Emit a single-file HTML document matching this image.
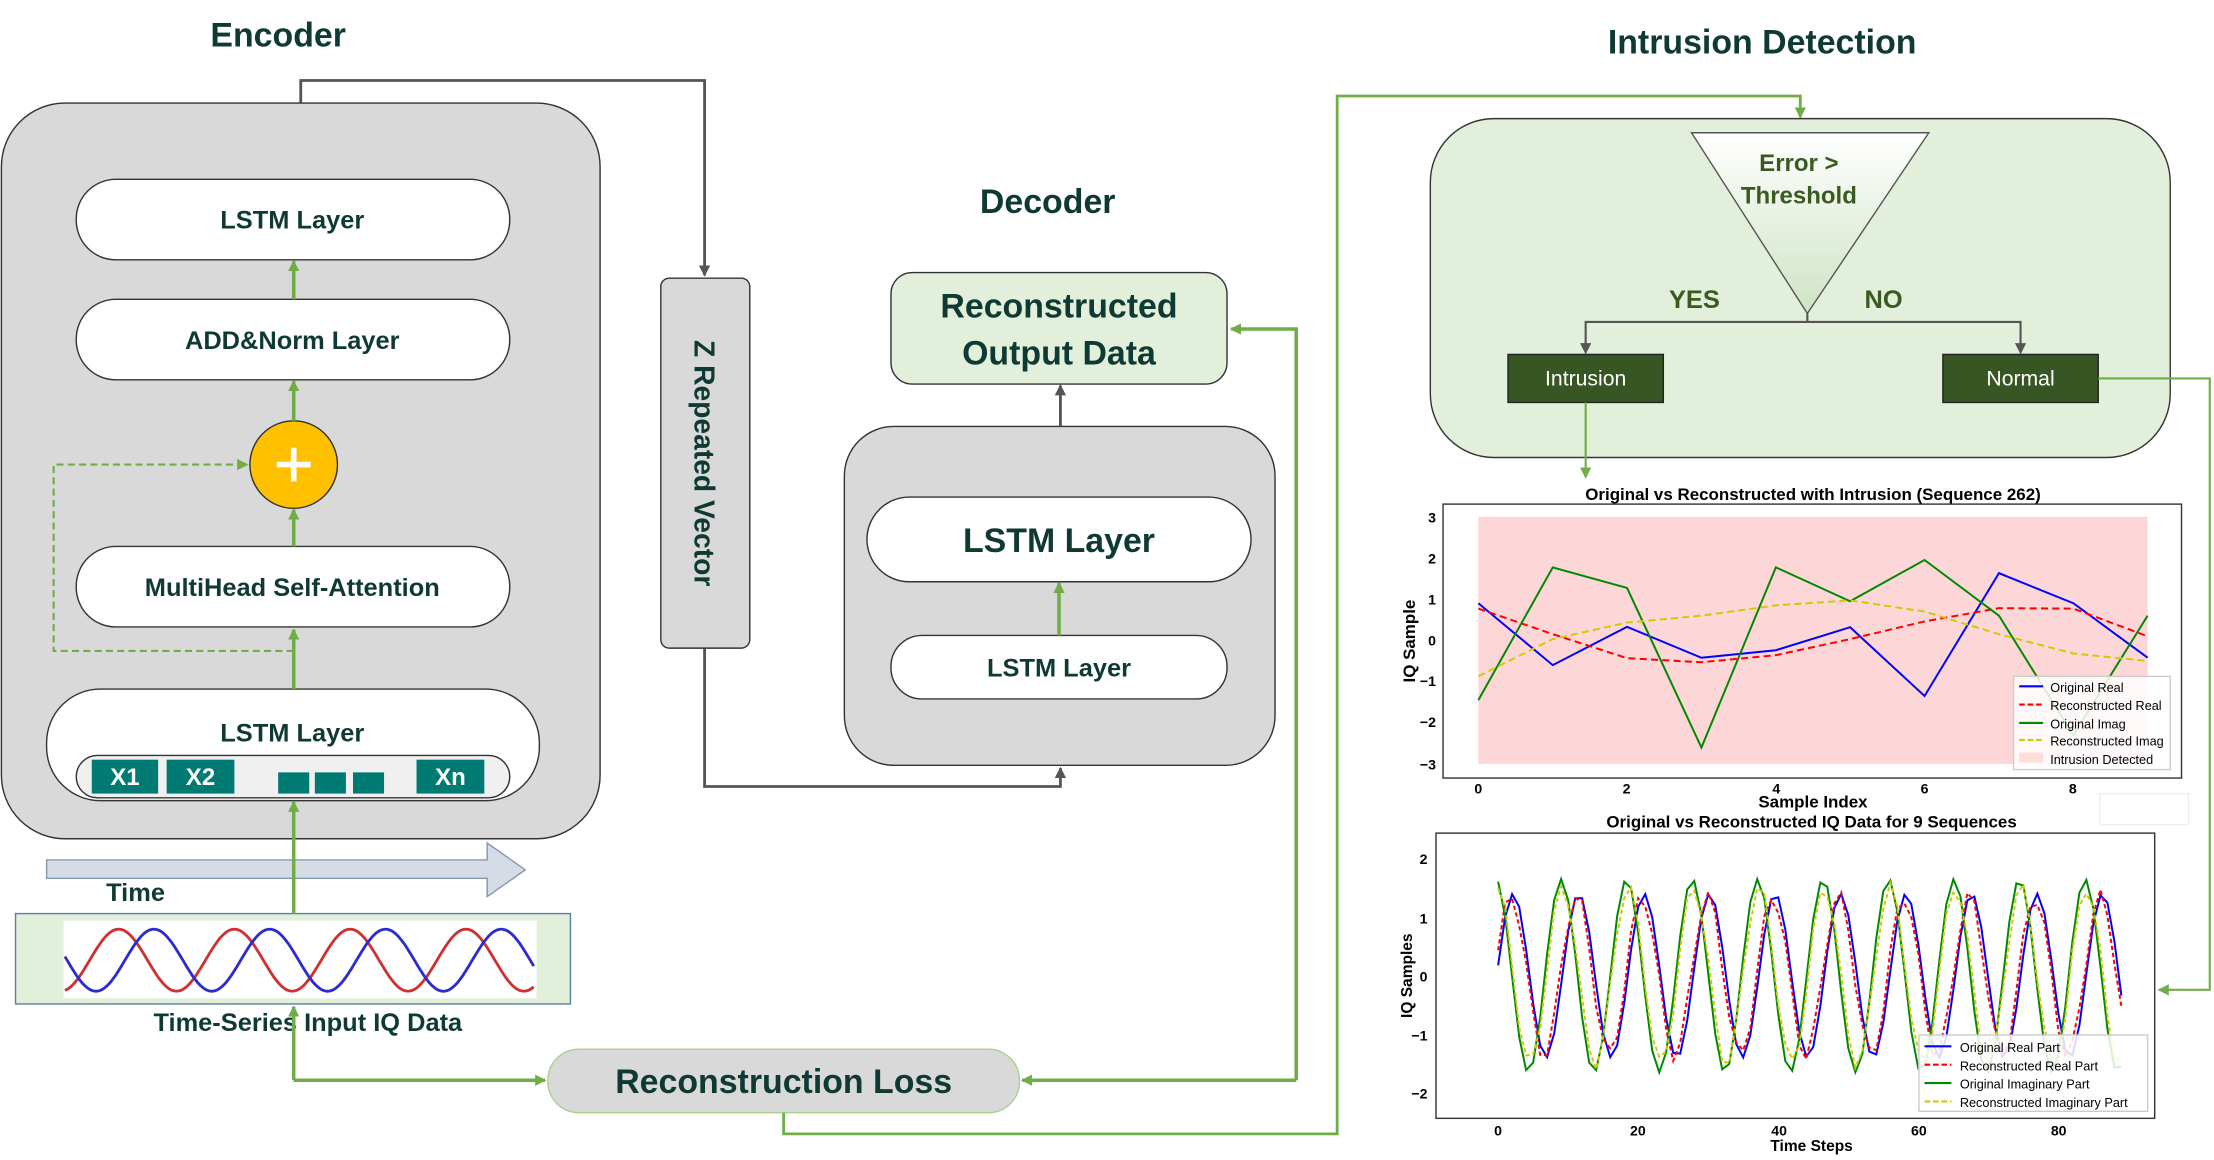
<!DOCTYPE html>
<html><head><meta charset="utf-8"><style>
html,body{margin:0;padding:0;background:#fff;}
svg{display:block;font-family:"Liberation Sans",sans-serif;}
.t{font-weight:bold;fill:#0f3a33;text-anchor:middle;}
</style></head><body>
<svg id="s" width="2214" height="1160" viewBox="0 0 1568 821.5" preserveAspectRatio="none" xmlns="http://www.w3.org/2000/svg">
<defs>
<marker id="ag" markerWidth="8" markerHeight="8" refX="7" refY="4" orient="auto" markerUnits="userSpaceOnUse"><path d="M0,0L8,4L0,8z" fill="#70ad47"/></marker>
<marker id="ak" markerWidth="8" markerHeight="8" refX="7" refY="4" orient="auto" markerUnits="userSpaceOnUse"><path d="M0,0L8,4L0,8z" fill="#555"/></marker>
<linearGradient id="tri" x1="0" y1="0" x2="0" y2="1"><stop offset="0" stop-color="#fff"/><stop offset="1" stop-color="#cfe3c4"/></linearGradient>
</defs>
<text class="t" x="197" y="33" font-size="24">Encoder</text>
<text class="t" x="742" y="151" font-size="24">Decoder</text>
<text class="t" x="1248" y="38" font-size="24">Intrusion Detection</text>

<path d="M213,73V57H499V195" fill="none" stroke="#555" stroke-width="2" marker-end="url(#ak)"/>
<path d="M499,459V557H751V544" fill="none" stroke="#555" stroke-width="2" marker-end="url(#ak)"/>

<rect x="1" y="73" width="424" height="521" rx="45" fill="#d9d9d9" stroke="#333"/>
<rect x="54" y="127" width="307" height="57" rx="28" fill="#fff" stroke="#333"/>
<text class="t" x="207" y="162" font-size="18">LSTM Layer</text>
<rect x="54" y="212" width="307" height="57" rx="28" fill="#fff" stroke="#333"/>
<text class="t" x="207" y="247" font-size="18">ADD&amp;Norm Layer</text>
<rect x="54" y="387" width="307" height="57" rx="28" fill="#fff" stroke="#333"/>
<text class="t" x="207" y="422" font-size="18">MultiHead Self-Attention</text>
<circle cx="208" cy="329" r="31" fill="#ffc000" stroke="#333"/>
<path d="M196,329H220M208,317V341" stroke="#fff" stroke-width="4"/>
<rect x="33" y="488" width="349" height="79" rx="38" fill="#fff" stroke="#333"/>
<text class="t" x="207" y="525" font-size="18">LSTM Layer</text>
<rect x="54" y="535" width="307" height="30" rx="15" fill="#f0f0f0" stroke="#333"/>
<rect x="65" y="538" width="47" height="24" fill="#007b74"/><text x="88.5" y="556" fill="#fff" font-size="17" font-weight="bold" text-anchor="middle">X1</text>
<rect x="118" y="538" width="48" height="24" fill="#007b74"/><text x="142" y="556" fill="#fff" font-size="17" font-weight="bold" text-anchor="middle">X2</text>
<rect x="197" y="547" width="22" height="15" fill="#007b74"/>
<rect x="223" y="547" width="22" height="15" fill="#007b74"/>
<rect x="250" y="547" width="22" height="15" fill="#007b74"/>
<rect x="295" y="538" width="48" height="24" fill="#007b74"/><text x="319" y="556" fill="#fff" font-size="17" font-weight="bold" text-anchor="middle">Xn</text>
<g stroke="#70ad47" stroke-width="2.5" fill="none">
<path d="M208,488V446" marker-end="url(#ag)"/>
<path d="M208,387V361" marker-end="url(#ag)"/>
<path d="M208,298V270" marker-end="url(#ag)"/>
<path d="M208,212V185" marker-end="url(#ag)"/>
</g>
<path d="M208,461H38V329H175" fill="none" stroke="#70ad47" stroke-width="1.5" stroke-dasharray="5,3" marker-end="url(#ag)"/>

<path d="M33,609H345V597L372,616L345,635V622H33Z" fill="#d6dce5" stroke="#8497b0"/>
<text class="t" x="96" y="638" font-size="18">Time</text>
<rect x="11" y="647" width="393" height="64" fill="#e2efda" stroke="#5b7fa6"/>
<rect x="45" y="652" width="335" height="55" fill="#fff"/>
<path id="red" fill="none" stroke="#d03030" stroke-width="2"/>
<path id="blue" fill="none" stroke="#2b2bd0" stroke-width="2"/>
<text class="t" x="218" y="730" font-size="18">Time-Series  Input IQ Data</text>
<path d="M208,647V568" stroke="#70ad47" stroke-width="2.5" fill="none" marker-end="url(#ag)"/>

<path d="M208,765V713" stroke="#70ad47" stroke-width="2.5" fill="none" marker-end="url(#ag)"/>
<path d="M208,765H386" stroke="#70ad47" stroke-width="2.5" fill="none" marker-end="url(#ag)"/>
<rect x="388" y="743" width="334" height="45" rx="22" fill="#d9d9d9" stroke="#a9d18e"/>
<text class="t" x="555" y="774" font-size="24">Reconstruction Loss</text>
<path d="M918,765H724" stroke="#70ad47" stroke-width="2.5" fill="none" marker-end="url(#ag)"/>
<path d="M918,765V233H872" stroke="#70ad47" stroke-width="2.5" fill="none" marker-end="url(#ag)"/>
<path d="M555,788V803H947V68H1275V83" stroke="#70ad47" stroke-width="2" fill="none" marker-end="url(#ag)"/>

<rect x="468" y="197" width="63" height="262" rx="6" fill="#d9d9d9" stroke="#333"/>
<text class="t" font-size="20" transform="translate(492,328) rotate(90)">Z Repeated Vector</text>

<rect x="598" y="302" width="305" height="240" rx="35" fill="#d9d9d9" stroke="#333"/>
<rect x="614" y="352" width="272" height="60" rx="30" fill="#fff" stroke="#333"/>
<text class="t" x="750" y="391" font-size="24">LSTM Layer</text>
<rect x="631" y="450" width="238" height="45" rx="22" fill="#fff" stroke="#333"/>
<text class="t" x="750" y="479" font-size="18">LSTM Layer</text>
<path d="M750,450V413" stroke="#70ad47" stroke-width="2.5" fill="none" marker-end="url(#ag)"/>
<path d="M751,302V273" stroke="#555" stroke-width="2" fill="none" marker-end="url(#ak)"/>
<rect x="631" y="193" width="238" height="79" rx="15" fill="#e2efda" stroke="#333"/>
<text class="t" x="750" y="225" font-size="24">Reconstructed</text>
<text class="t" x="750" y="258" font-size="24">Output Data</text>

<rect x="1013" y="84" width="524" height="240" rx="45" fill="#e2efda" stroke="#333"/>
<path d="M1198,94H1366L1280,222Z" fill="url(#tri)" stroke="#555"/>
<text x="1274" y="121" font-size="17" font-weight="bold" fill="#3a5a20" text-anchor="middle">Error &gt;</text>
<text x="1274" y="144" font-size="17" font-weight="bold" fill="#3a5a20" text-anchor="middle">Threshold</text>
<path d="M1280,222V228H1123V249M1280,228H1431V249" stroke="#555" stroke-width="1.5" fill="none"/>
<path d="M1123,240V250" stroke="#555" marker-end="url(#ak)"/>
<path d="M1431,240V250" stroke="#555" marker-end="url(#ak)"/>
<text x="1200" y="218" font-size="18" font-weight="bold" fill="#3a5a20" text-anchor="middle">YES</text>
<text x="1334" y="218" font-size="18" font-weight="bold" fill="#3a5a20" text-anchor="middle">NO</text>
<rect x="1068" y="251" width="110" height="34" fill="#375623" stroke="#222"/>
<text x="1123" y="273" font-size="15" fill="#fff" text-anchor="middle">Intrusion</text>
<rect x="1376" y="251" width="110" height="34" fill="#375623" stroke="#222"/>
<text x="1431" y="273" font-size="15" fill="#fff" text-anchor="middle">Normal</text>
<path d="M1123,285V338" stroke="#70ad47" stroke-width="1.5" fill="none" marker-end="url(#ag)"/>
<path d="M1486,268H1565V701H1529" stroke="#70ad47" stroke-width="1.5" fill="none" marker-end="url(#ag)"/>

<text x="1284" y="354" font-size="12" font-weight="bold" text-anchor="middle">Original vs Reconstructed with Intrusion (Sequence 262)</text>
<rect x="1022" y="357" width="523" height="194" fill="#fff" stroke="#333"/>
<rect x="1047" y="366" width="474" height="175" fill="#fdd7d7"/>
<g id="c1"></g>
<g font-size="10" font-weight="bold" text-anchor="end">
<text x="1017" y="370">3</text><text x="1017" y="399">2</text><text x="1017" y="428">1</text><text x="1017" y="457">0</text><text x="1017" y="486">−1</text><text x="1017" y="515">−2</text><text x="1017" y="545">−3</text>
</g>
<g font-size="10" font-weight="bold" text-anchor="middle">
<text x="1047" y="562">0</text><text x="1152" y="562">2</text><text x="1258" y="562">4</text><text x="1363" y="562">6</text><text x="1468" y="562">8</text>
</g>
<text x="1284" y="572" font-size="12" font-weight="bold" text-anchor="middle">Sample Index</text>
<text font-size="12" font-weight="bold" text-anchor="middle" transform="translate(1002,454) rotate(-90)">IQ Sample</text>
<rect x="1426" y="479" width="111" height="66" fill="#fff" fill-opacity="0.85" stroke="#ccc"/>
<g font-size="9">
<path d="M1430,486H1447" stroke="#00f" stroke-width="1.5"/><text x="1452" y="490">Original Real</text>
<path d="M1430,499H1447" stroke="#f00" stroke-width="1.5" stroke-dasharray="4,2"/><text x="1452" y="503">Reconstructed Real</text>
<path d="M1430,512H1447" stroke="#080" stroke-width="1.5"/><text x="1452" y="516">Original Imag</text>
<path d="M1430,524H1447" stroke="#cc0" stroke-width="1.5" stroke-dasharray="4,2"/><text x="1452" y="528">Reconstructed Imag</text>
<rect x="1430" y="533" width="17" height="7" fill="#fdd"/><text x="1452" y="541">Intrusion Detected</text>
</g>
<rect x="1487" y="562" width="63" height="22" fill="#fff" stroke="#eee"/>

<text x="1283" y="586" font-size="12" font-weight="bold" text-anchor="middle">Original vs Reconstructed IQ Data for 9 Sequences</text>
<rect x="1017" y="590" width="509" height="202" fill="#fff" stroke="#333"/>
<g id="c2"></g>
<g font-size="10" font-weight="bold" text-anchor="end">
<text x="1011" y="612">2</text><text x="1011" y="654">1</text><text x="1011" y="695">0</text><text x="1011" y="737">−1</text><text x="1011" y="778">−2</text>
</g>
<g font-size="10" font-weight="bold" text-anchor="middle">
<text x="1061" y="804">0</text><text x="1160" y="804">20</text><text x="1260" y="804">40</text><text x="1359" y="804">60</text><text x="1458" y="804">80</text>
</g>
<text x="1283" y="815" font-size="11" font-weight="bold" text-anchor="middle">Time Steps</text>
<text font-size="11" font-weight="bold" text-anchor="middle" transform="translate(1000,691) rotate(-90)">IQ Samples</text>
<rect x="1359" y="733" width="162" height="54" fill="#fff" fill-opacity="0.85" stroke="#ccc"/>
<g font-size="9">
<path d="M1363,741H1382" stroke="#00f" stroke-width="1.5"/><text x="1388" y="745">Original Real Part</text>
<path d="M1363,754H1382" stroke="#f00" stroke-width="1.5" stroke-dasharray="4,2"/><text x="1388" y="758">Reconstructed Real Part</text>
<path d="M1363,767H1382" stroke="#080" stroke-width="1.5"/><text x="1388" y="771">Original Imaginary Part</text>
<path d="M1363,780H1382" stroke="#cc0" stroke-width="1.5" stroke-dasharray="4,2"/><text x="1388" y="784">Reconstructed Imaginary Part</text>
</g>
</svg>
<script>
var NS="http://www.w3.org/2000/svg";
function line(g,pts,col,dash){var p=document.createElementNS(NS,"path");p.setAttribute("d","M"+pts.map(function(a){return a[0].toFixed(1)+","+a[1].toFixed(1)}).join("L"));p.setAttribute("fill","none");p.setAttribute("stroke",col);p.setAttribute("stroke-width","1.4");if(dash)p.setAttribute("stroke-dasharray",dash);g.appendChild(p);}
var g1=document.getElementById("c1");
var S=[[[.9,-.6,.33,-.42,-.24,.32,-1.35,1.63,.9,-.42],"#00f"],[[.77,.15,-.43,-.53,-.36,.03,.46,.78,.77,.1],"#f00","5,3"],[[-1.45,1.77,1.27,-2.6,1.77,.95,1.95,.6,-2.3,.6],"#080"],[[-.87,.03,.43,.6,.85,.97,.7,.15,-.32,-.5],"#cc0","5,3"]];
S.forEach(function(s){line(g1,s[0].map(function(v,i){return [1047+i*52.67,453.5-v*29.2]}),s[1],s[2]);});
var g2=document.getElementById("c2");
function ser(ph,amp,noise){var a=[];for(var t=0;t<90;t++){var v=amp*Math.cos(2*Math.PI*(t-ph)/9.35)+noise*Math.sin(t*1.7);a.push([1061+t*4.96,691-v*41.5]);}return a;}
line(g2,ser(11.5,1.4,0),"#00f");line(g2,ser(11.2,1.35,.12),"#f00","3,2");line(g2,ser(9,1.65,0),"#080");line(g2,ser(9.2,1.5,.1),"#cc0","3,2");
function sin(ph,col){var a=[];for(var x=46;x<=379;x+=2){a.push([x,680-22*Math.cos(2*Math.PI*(x-ph)/82)]);}document.getElementById(col).setAttribute("d","M"+a.map(function(p){return p[0]+","+p[1].toFixed(1)}).join("L"));}
sin(84,"red");sin(109,"blue");
</script>
</body></html>
